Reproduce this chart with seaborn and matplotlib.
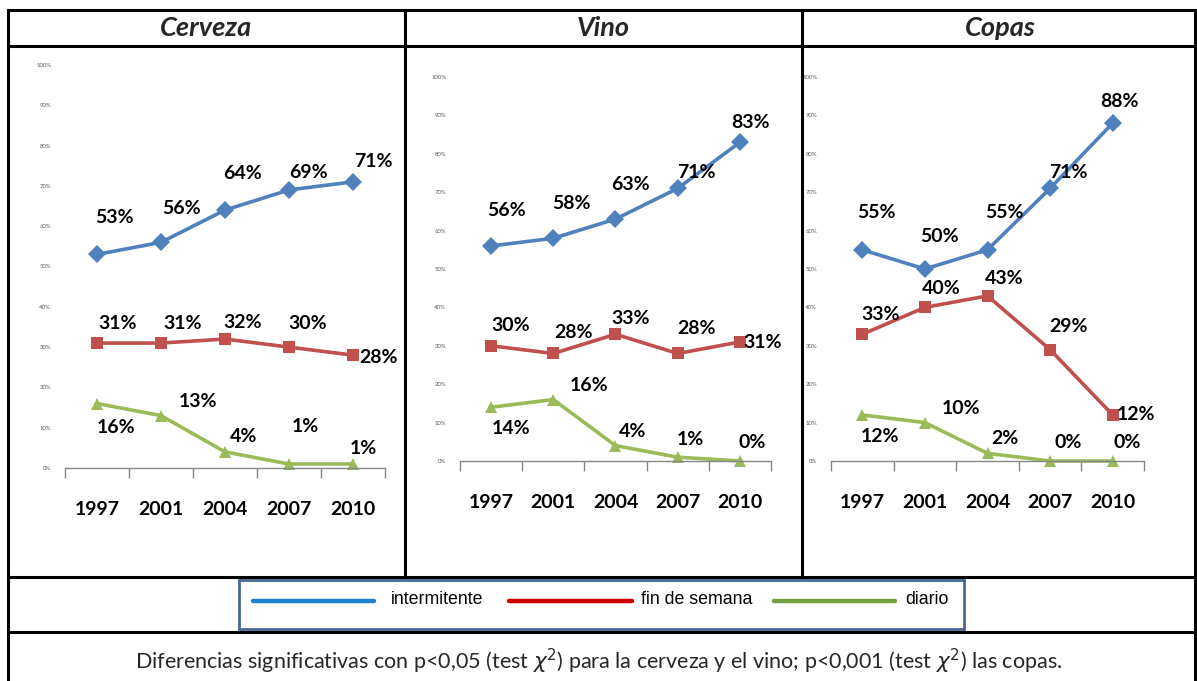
import matplotlib
matplotlib.use("Agg")
import matplotlib.pyplot as plt
from matplotlib.lines import Line2D
import seaborn as sns
import pandas as pd

# ---------------- data ----------------
years = ["1997", "2001", "2004", "2007", "2010"]
series = ["intermitente", "fin de semana", "diario"]
panels = ["Cerveza", "Vino", "Copas"]

cerveza_intermitente = [53, 56, 64, 69, 71]
cerveza_finde = [31, 31, 32, 30, 28]
cerveza_diario = [16, 13, 4, 1, 1]

vino_intermitente = [56, 58, 63, 71, 83]
vino_finde = [30, 28, 33, 28, 31]
vino_diario = [14, 16, 4, 1, 0]

copas_intermitente = [55, 50, 55, 71, 88]
copas_finde = [33, 40, 43, 29, 12]
copas_diario = [12, 10, 2, 0, 0]

yticks = [0, 10, 20, 30, 40, 50, 60, 70, 80, 90, 100]
footnote = ("Diferencias significativas con p<0,05 (test $\\chi^2$) para la cerveza y el vino; "
            "p<0,001 (test $\\chi^2$) las copas.")

values = {
    "Cerveza": [cerveza_intermitente, cerveza_finde, cerveza_diario],
    "Vino": [vino_intermitente, vino_finde, vino_diario],
    "Copas": [copas_intermitente, copas_finde, copas_diario],
}

# ---------------- styles / layout ----------------
W, H = 1197, 681
line_colors = {"intermitente": "#4F81BD", "fin de semana": "#C0504D", "diario": "#9BBB59"}
legend_colors = {"intermitente": "#1F7FD0", "fin de semana": "#D00000", "diario": "#77A040"}
markers = {"intermitente": "D", "fin de semana": "s", "diario": "^"}

# axes pixel boxes: (left, right, y_of_0, y_of_100)
axes_px = {
    "Cerveza": (65, 385, 468, 65),
    "Vino": (460, 771, 461, 77),
    "Copas": (831, 1144, 461, 77),
}
# label offsets in pixels (dx, dy up)
label_off = {
    "Cerveza": [[(17, 37), (21, 34), (17, 37), (19, 17), (20, 20)],
                [(21, 20), (22, 20), (18, 17), (19, 24), (25, -2)],
                [(19, -24), (37, 14), (19, 15), (16, 37), (10, 15)]],
    "Vino": [[(15, 35), (18, 35), (15, 35), (19, 16), (11, 20)],
             [(20, 20), (20, 21), (15, 16), (19, 25), (23, -1)],
             [(20, -21), (36, 14), (17, 14), (13, 18), (12, 19)]],
    "Copas": [[(14, 37), (15, 33), (17, 37), (18, 16), (7, 22)],
              [(18, 20), (16, 19), (17, 17), (18, 23), (23, 0)],
              [(18, -22), (36, 14), (17, 15), (18, 19), (14, 19)]],
}
col_centers = {"Cerveza": 206, "Vino": 603, "Copas": 1000}
# legend swatch layout in pixels: (line start, line end, text start)
legend_px = [(253, 374, 391), (509, 632, 641), (774, 895, 905)]

sns.set_theme(style="white")
plt.rcParams["font.family"] = ["Lato", "DejaVu Sans"]

fig = plt.figure(figsize=(W / 100, H / 100), dpi=100)
fx = lambda px: px / W
fy = lambda py: 1 - py / H


def hline(y, x0, x1, lw=2.2, color="black"):
    fig.add_artist(Line2D([fx(x0), fx(x1)], [fy(y), fy(y)], color=color, lw=lw,
                          transform=fig.transFigure, solid_capstyle="projecting"))


def vline(x, y0, y1, lw=2.2, color="black"):
    fig.add_artist(Line2D([fx(x), fx(x)], [fy(y0), fy(y1)], color=color, lw=lw,
                          transform=fig.transFigure, solid_capstyle="projecting"))


for name in panels:
    l, r, y0, y100 = axes_px[name]
    ax = fig.add_axes([fx(l), fy(y0), (r - l) / W, (y0 - y100) / H])
    rows = []
    for s, vals in zip(series, values[name]):
        for i, v in enumerate(vals):
            rows.append({"x": i, "y": v, "serie": s})
    df = pd.DataFrame(rows)
    sns.lineplot(data=df, x="x", y="y", hue="serie", style="serie", hue_order=series,
                 style_order=series, palette=line_colors, markers=markers, dashes=False,
                 linewidth=2.6, markersize=9, markeredgewidth=0, legend=False, ax=ax,
                 clip_on=False)
    for si, (s, vals) in enumerate(zip(series, values[name])):
        for i, v in enumerate(vals):
            dx, dy = label_off[name][si][i]
            ax.annotate(f"{v}%", (i, v), xytext=(dx, dy), textcoords="offset pixels",
                        ha="center", va="center", fontsize=14, fontweight="bold",
                        color="black")
    ax.set_xlim(-0.5, 4.5)
    ax.set_ylim(0, 100)
    ax.set_xticks(range(len(years)))
    ax.set_xticklabels(years, fontsize=14, fontweight="bold")
    ax.set_xticks([i - 0.5 for i in range(len(years) + 1)], minor=True)
    ax.tick_params(axis="x", which="major", length=0, pad=24, colors="black")
    ax.tick_params(axis="x", which="minor", length=7, width=1, color="#868686",
                   direction="out", bottom=True)
    ax.set_yticks(yticks)
    ax.set_yticklabels([f"{t}%" for t in yticks], fontsize=4.3, color="#595959")
    ax.tick_params(axis="y", length=0, pad=10)
    ax.set_xlabel("")
    ax.set_ylabel("")
    for sp in ["top", "right", "left"]:
        ax.spines[sp].set_visible(False)
    ax.spines["bottom"].set_color("#868686")
    ax.spines["bottom"].set_linewidth(1)
    ax.set_facecolor("none")
    ax.grid(False)
    fig.text(fx(col_centers[name]), fy(28), name, ha="center", va="center",
             fontsize=19.5, fontweight="bold", fontstyle="italic")

# table grid
for y in [10, 46, 577, 632]:
    hline(y, 8, 1195)
vline(8, 10, 681)
vline(1195, 10, 681)
vline(405, 10, 577)
vline(802, 10, 577)

# legend box
lx0, lx1, ly0, ly1 = 239, 964, 580, 629
lax = fig.add_axes([fx(lx0), fy(ly1), (lx1 - lx0) / W, (ly1 - ly0) / H])
lax.set_xlim(lx0, lx1)
lax.set_ylim(ly1, ly0)
lax.set_xticks([]); lax.set_yticks([])
lax.set_facecolor("white")
for sp in lax.spines.values():
    sp.set_color("#4A6A96")
    sp.set_linewidth(2)
for s, (a, b, t) in zip(series, legend_px):
    lax.add_line(Line2D([a, b], [601, 601], color=legend_colors[s], lw=3.2))
    lax.text(t, 600, s, ha="left", va="center", fontsize=12.8,
             family=["Liberation Sans", "DejaVu Sans"], color="black")

fig.text(fx(599), fy(661), footnote, ha="center", va="center", fontsize=15.5,
         family=["Lato", "DejaVu Sans"])

fig.savefig("out.png", dpi=100, facecolor="white")
